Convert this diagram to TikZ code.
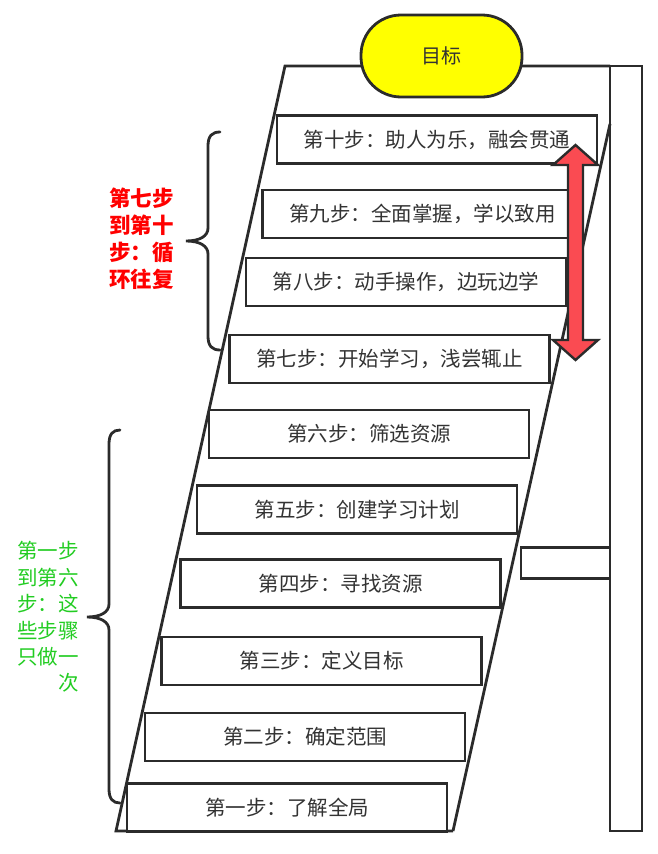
\documentclass[tikz,border=0pt]{standalone}
\usepackage{fontspec}
\setmainfont{Noto Sans CJK SC}
\definecolor{ln}{HTML}{2B2B2B}
\definecolor{txt}{HTML}{333333}
\definecolor{arrowred}{HTML}{FA4B52}
\definecolor{brightgreen}{HTML}{22CC22}
\definecolor{goalyellow}{HTML}{FFFF00}
\tikzset{
  frameline/.style={draw=ln, line width=2.8pt, line join=miter},
  stepbox/.style={draw=ln, line width=2.8pt, fill=white, minimum width=320pt, minimum height=48pt, inner sep=0pt, text=txt, font=\fontsize{20.5}{20.5}\selectfont},
  goalbox/.style={draw=ln, line width=2.8pt, fill=goalyellow, minimum width=161pt, minimum height=82pt, rounded corners=40pt, text=txt, font=\fontsize{20}{20}\selectfont},
  bracestyle/.style={draw=ln, line width=2.8pt, line cap=round},
  redlabel/.style={text=red, font=\fontsize{21.5}{27}\selectfont\bfseries, align=left, inner sep=0pt},
  greenlabel/.style={text=brightgreen, font=\fontsize{20.5}{26.4}\selectfont, align=right, inner sep=0pt},
}
\begin{document}
\begin{tikzpicture}[x=1pt,y=-1pt]
\useasboundingbox (0,0) rectangle (658,854);
% frame (staircase outline)
\coordinate (bl) at (116,831);
\coordinate (tl) at (285,66);
\coordinate (br) at (453,831);
\coordinate (rt) at (610,124);
\draw[frameline] (br) -- (bl) -- (tl) -- (610,66);
\draw[frameline] (br) -- (rt);
% post
\node[frameline, draw, minimum width=32pt, minimum height=765pt, inner sep=0pt] (post) at (626,448.5) {};
% side bar
\node[frameline, draw, minimum width=89pt, minimum height=31pt, inner sep=0pt] (bar) at (565.5,563) {};
% goal
\node[goalbox] (goal) at (441.5,56) {目标};
% steps
\node[stepbox] (s10) at (437,139.5) {第十步：助人为乐，融会贯通};
\node[stepbox] (s9) at (422.5,214) {第九步：全面掌握，学以致用};
\node[stepbox] (s8) at (406,282) {第八步：动手操作，边玩边学};
\node[stepbox] (s7) at (389.5,359) {第七步：开始学习，浅尝辄止};
\node[stepbox] (s6) at (369,434) {第六步：筛选资源};
\node[stepbox] (s5) at (357,509.5) {第五步：创建学习计划};
\node[stepbox] (s4) at (340.5,583.5) {第四步：寻找资源};
\node[stepbox] (s3) at (321.5,661) {第三步：定义目标};
\node[stepbox] (s2) at (305,737) {第二步：确定范围};
\node[stepbox] (s1) at (287,807.5) {第一步：了解全局};
% double arrow
\draw[draw=ln, line width=2.4pt, fill=arrowred, line join=miter]
  (575.5,145) -- (598,165) -- (583,165) -- (583,340) -- (598,340) -- (575.5,360)
  -- (553,340) -- (568,340) -- (568,165) -- (553,165) -- cycle;
% braces
\draw[bracestyle] (220,132) .. controls (212,132) and (208,136) .. (208,146) -- (208,228)
  .. controls (208,236) and (200,241) .. (186,241)
  .. controls (200,241) and (208,246) .. (208,254) -- (208,336)
  .. controls (208,346) and (212,350) .. (220,350);
\draw[bracestyle] (120,430) .. controls (113,430) and (109,434) .. (109,444) -- (109,604)
  .. controls (109,612) and (101,617) .. (87,617)
  .. controls (101,617) and (109,622) .. (109,630) -- (109,789)
  .. controls (109,799) and (113,803) .. (120,803);
% labels
\node[redlabel, anchor=west] (redtext) at (109,238.5) {第七步\\到第十\\步：循\\环往复};
\node[greenlabel, anchor=east] (greentext) at (79,617) {第一步\\到第六\\步：这\\些步骤\\只做一\\次};
\end{tikzpicture}
\end{document}
